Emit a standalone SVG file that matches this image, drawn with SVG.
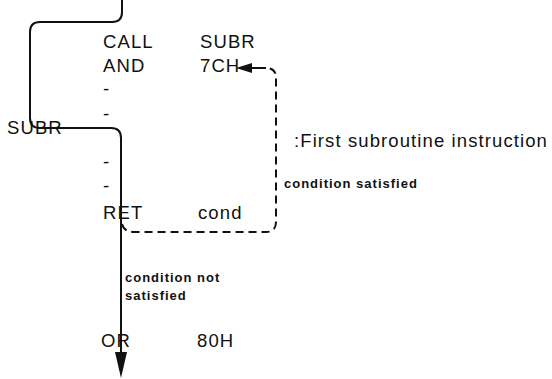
<svg xmlns="http://www.w3.org/2000/svg" width="552" height="379" viewBox="0 0 552 379">
<style>
.t{font-family:"Liberation Sans",Arial,sans-serif;font-size:18.5px;letter-spacing:1.1px;fill:#111}
.b{font-family:"Liberation Sans",Arial,sans-serif;font-size:13px;font-weight:bold;letter-spacing:1px;fill:#111}
.s{fill:none;stroke:#111;stroke-width:2}
.d{fill:none;stroke:#111;stroke-width:2;stroke-dasharray:8,5}
</style>
<g id="connectors">
<path class="s" d="M122,0 V12 Q122,22 112,22 H40 Q30,22 30,32 V118 Q30,128 40,128 H111 Q121,128 121,138 V355"/>
<path d="M115,352 L127,352 L121,378 Z" fill="#111"/>
<path class="d" d="M122,224 Q124,232 134,232 H266 Q276,232 276,222 V78 Q276,68 266,68"/>
<path class="s" d="M266,68 H250"/>
<path d="M236,68 L252,63 L252,73 Z" fill="#111"/>
</g>
<g id="main">
<text class="t" x="103" y="48">CALL</text>
<text class="t" x="200" y="48">SUBR</text>
<text class="t" x="103" y="72">AND</text>
<text class="t" x="200" y="72">7CH</text>
<text class="t" x="103" y="95">-</text>
<text class="t" x="103" y="120">-</text>
</g>
<g id="subr">
<text class="t" x="7" y="134">SUBR</text>
<text class="t" x="294" y="147">:First subroutine instruction</text>
<text class="t" x="103" y="168">-</text>
<text class="t" x="103" y="192">-</text>
<text class="b" x="284" y="188">condition satisfied</text>
<text class="t" x="103" y="219">RET</text>
<text class="t" x="198" y="219">cond</text>
</g>
<g id="after">
<text class="b" x="125" y="282">condition not</text>
<text class="b" x="125" y="300">satisfied</text>
<text class="t" x="101" y="347">OR</text>
<text class="t" x="197" y="347">80H</text>
</g>
</svg>
